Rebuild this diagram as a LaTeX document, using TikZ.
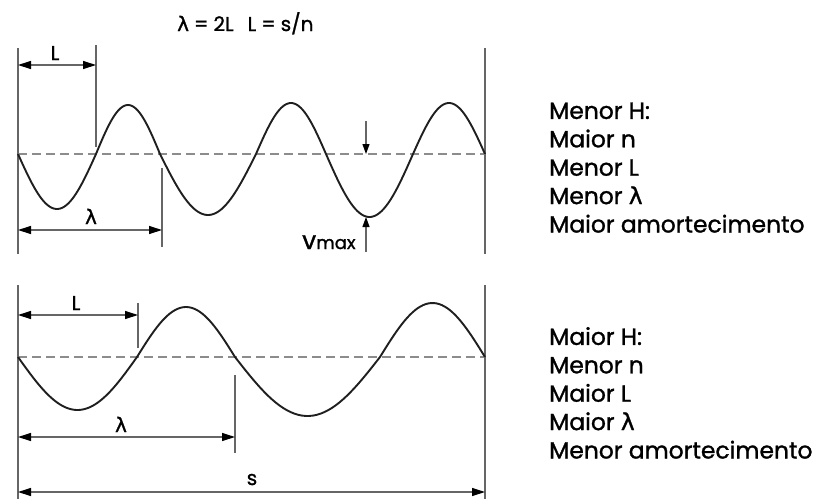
\documentclass[tikz,border=0pt]{standalone}
\usepackage{fontspec}
\setmainfont{Poppins}[FakeBold=1.2]
\newfontfamily\lamfont{DejaVu Sans}[FakeBold=1.2]
\newcommand{\lam}{{\lamfont λ}}
\usetikzlibrary{arrows.meta}
\definecolor{dimgray}{HTML}{666666}
\definecolor{zerogray}{HTML}{8C8C8C}

\begin{document}
\begin{tikzpicture}[
  x=1pt, y=-1pt,
  wave/.style={line width=1.9pt, color=black!88, line join=round},
  bound/.style={line width=1.2pt, color=dimgray},
  zeroline/.style={line width=1.3pt, color=zerogray, dash pattern=on 9pt off 5pt},
  tick/.style={line width=1.1pt, color=dimgray},
  dim/.style={{Triangle[length=13pt,width=8pt,color=black]}-{Triangle[length=13pt,width=8pt,color=black]}, line width=1.2pt, color=dimgray},
  pin/.style={-{Triangle[length=10pt,width=7pt,color=black]}, line width=1.1pt, color=dimgray},
  lbl/.style={inner sep=0pt, anchor=base, font=\fontsize{20}{22}\selectfont},
  info/.style={inner sep=0pt, anchor=base west, align=left, font=\fontsize{23.4}{28.4}\selectfont}
]
\useasboundingbox (0,0) rectangle (815,499);

\node[inner sep=0pt, anchor=base west, font=\fontsize{20}{22}\selectfont] (rel) at (177,31)
  {\lam\hspace{5pt}=\hspace{5pt}2L\hspace{14pt}L\hspace{5pt}=\hspace{5pt}s/n};

% onda curta
\coordinate (a0) at (18,48);   \coordinate (a1) at (18,254);
\coordinate (b0) at (485,48);  \coordinate (b1) at (485,254);
\coordinate (z0) at (18,154);  \coordinate (z1) at (485,154);
\draw[bound] (a0) -- (a1);
\draw[bound] (b0) -- (b1);
\draw[zeroline] (z0) -- (z1);
\draw[wave] (z0) \foreach \a/\b/\h in {18/96/55, 96/160/-49, 160/256/61, 256/326/-51, 326/413/63, 413/485/-51} {
  -- plot[domain=\a:\b, samples=40] (\x, {154+\h*sin((\x-\a)/(\b-\a)*180)}) };
\coordinate (lt0) at (96,45);   \coordinate (lt1) at (96,147);
\coordinate (lamt0) at (162,168); \coordinate (lamt1) at (162,247);
\draw[tick] (lt0) -- (lt1);
\draw[tick] (lamt0) -- (lamt1);
\coordinate (la) at (18,65);  \coordinate (lb) at (96,65);
\coordinate (lama) at (18,230); \coordinate (lamb) at (162,230);
\draw[dim] (la) -- (lb);
\draw[dim] (lama) -- (lamb);
\node[lbl] (ltop) at (55,60) {L};
\node[lbl] (lamtop) at (91,224) {\lam};
\coordinate (v0) at (366,121); \coordinate (v1) at (366,154);
\coordinate (v2) at (366,252); \coordinate (v3) at (366,217);
\draw[pin] (v0) -- (v1);
\draw[pin] (v2) -- (v3);
\node[inner sep=0pt, anchor=base west] (vmax) at (302,249) {\fontsize{25}{25}\selectfont v\fontsize{18}{18}\selectfont max};

\node[info] (menor) at (549,232.5) {Menor H:\\Maior n\\Menor L\\Menor \lam\\Maior amortecimento};

% onda longa
\coordinate (c0) at (18,285);  \coordinate (c1) at (18,499);
\coordinate (d0) at (485,285); \coordinate (d1) at (485,499);
\coordinate (y0) at (18,357);  \coordinate (y1) at (485,357);
\draw[bound] (c0) -- (c1);
\draw[bound] (d0) -- (d1);
\draw[zeroline] (y0) -- (y1);
\draw[wave] (y0) \foreach \a/\b/\h in {18/137/53, 137/235/-50, 235/380/59, 380/485/-54} {
  -- plot[domain=\a:\b, samples=40] (\x, {357+\h*sin((\x-\a)/(\b-\a)*180)}) };
\coordinate (lt2) at (138,303); \coordinate (lt3) at (138,348);
\coordinate (lamt2) at (235,375); \coordinate (lamt3) at (235,453);
\draw[tick] (lt2) -- (lt3);
\draw[tick] (lamt2) -- (lamt3);
\coordinate (lc) at (18,315);  \coordinate (ld) at (138,315);
\coordinate (lamc) at (18,437); \coordinate (lamd) at (235,437);
\coordinate (sa) at (18,492);  \coordinate (sb) at (485,492);
\draw[dim] (lc) -- (ld);
\draw[dim] (lamc) -- (lamd);
\draw[dim] (sa) -- (sb);
\node[lbl] (lbot) at (76,310) {L};
\node[lbl] (lambot) at (121,432) {\lam};
\node[lbl] (slbl) at (252,485) {s};

\node[info] (maior) at (549,458.5) {Maior H:\\Menor n\\Maior L\\Maior \lam\\Menor amortecimento};
\end{tikzpicture}
\end{document}
